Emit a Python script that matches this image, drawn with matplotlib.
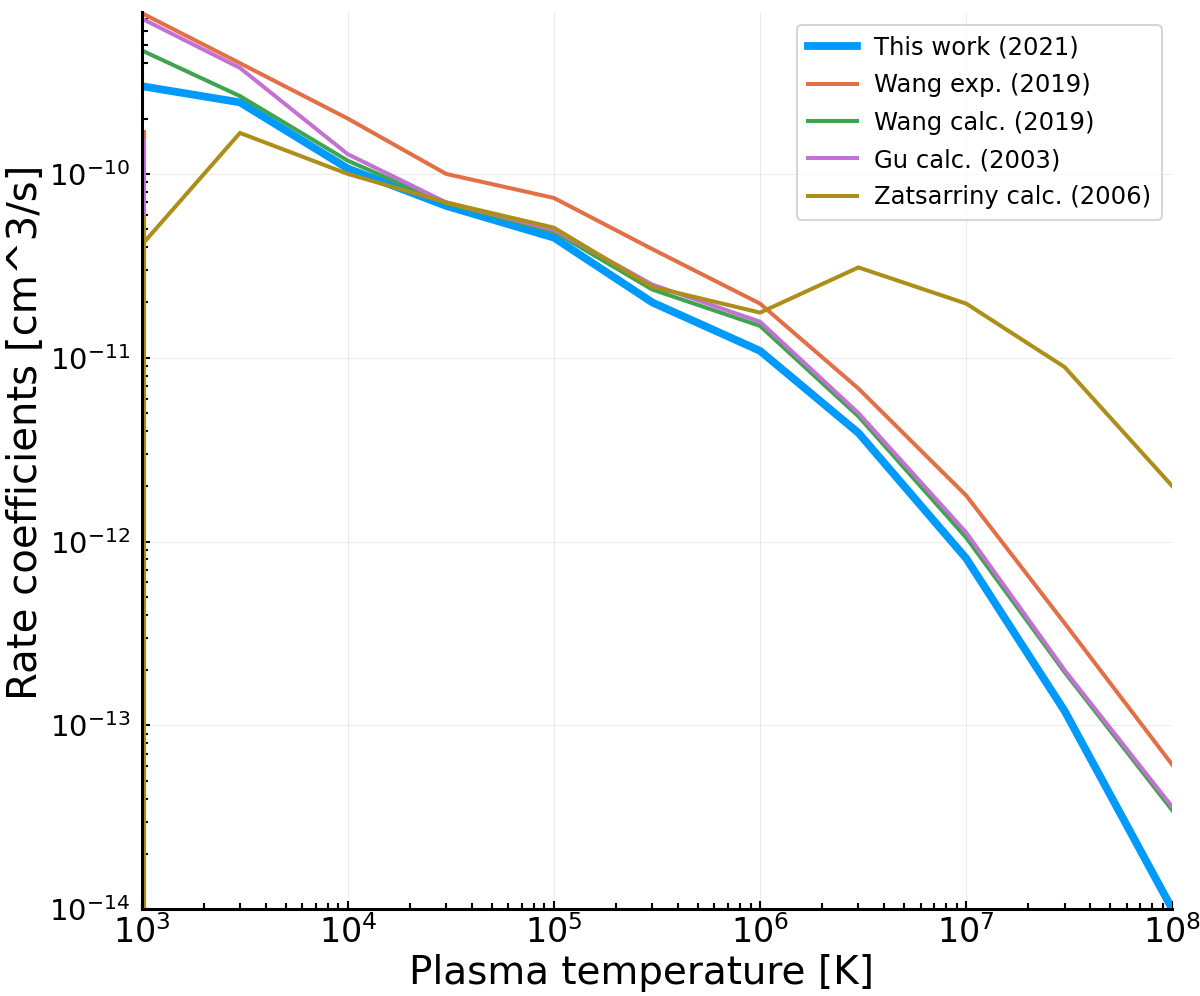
import matplotlib
matplotlib.use('Agg')
import matplotlib.pyplot as plt

# plasma temperature grid [K]
temps = [1e3, 3e3, 1e4, 3e4, 1e5, 3e5, 1e6, 3e6, 1e7, 3e7, 1e8]

this_work = [3.0e-10, 2.45e-10, 1.07e-10, 6.7e-11, 4.5e-11, 2.0e-11, 1.09e-11, 3.9e-12, 8.1e-13, 1.2e-13, 1.0e-14]
wang_exp = [7.5e-10, 4.0e-10, 2.0e-10, 1.0e-10, 7.4e-11, 3.9e-11, 1.97e-11, 6.8e-12, 1.78e-12, 3.6e-13, 6.1e-14]
wang_calc = [4.7e-10, 2.65e-10, 1.18e-10, 6.9e-11, 4.85e-11, 2.35e-11, 1.49e-11, 4.8e-12, 1.05e-12, 1.95e-13, 3.45e-14]
gu_calc = [7.0e-10, 3.77e-10, 1.28e-10, 7.0e-11, 4.96e-11, 2.5e-11, 1.57e-11, 5.0e-12, 1.12e-12, 2.0e-13, 3.6e-14]
zats_calc = [4.1e-11, 1.67e-10, 1.0e-10, 7.0e-11, 5.1e-11, 2.43e-11, 1.76e-11, 3.1e-11, 1.97e-11, 8.9e-12, 2.0e-12]

labels = ['This work (2021)', 'Wang exp. (2019)', 'Wang calc. (2019)',
          'Gu calc. (2003)', 'Zatsarriny calc. (2006)']
colors = ['#009AFA', '#E36F47', '#3EA44E', '#C371D2', '#AC8E18']
widths = [5.6, 2.9, 2.9, 2.9, 2.9]

# spurious low-temperature tails right at the left edge
tail_T = 1.025e3
tail_top = [9e-11, 1.7e-10, 1.0e-10, 1.53e-10, 5.8e-11]
tail_bottom = 1e-16

fig = plt.figure(figsize=(12, 9.96), dpi=100)
ax = fig.add_axes([0.118, 0.087, 0.859, 0.901])

series = [this_work, wang_exp, wang_calc, gu_calc, zats_calc]
for vals, lab, c, w, top in zip(series, labels, colors, widths, tail_top):
    ax.plot([tail_T, tail_T], [tail_bottom, top], color=c, lw=2.9)
    ax.plot(temps, vals, color=c, lw=w, label=lab)

ax.set_xscale('log')
ax.set_yscale('log')
ax.set_xlim(1e3, 1e8)
ax.set_ylim(1e-14, 7.6e-10)

ax.set_xlabel('Plasma temperature [K]', fontsize=28)
ax.set_ylabel('Rate coefficients [cm^3/s]', fontsize=29)
ax.xaxis.set_label_coords(0.485, -0.05)
ax.yaxis.set_label_coords(-0.093, 0.532)

for s in ['top', 'right']:
    ax.spines[s].set_visible(False)
for s in ['left', 'bottom']:
    ax.spines[s].set_linewidth(2.2)
    ax.spines[s].set_zorder(5)

ax.tick_params(axis='both', which='both', direction='in', width=1.5)
ax.tick_params(axis='both', which='major', length=6)
ax.tick_params(axis='both', which='minor', length=4)
ax.tick_params(axis='x', which='major', labelsize=24, pad=4)
ax.tick_params(axis='y', which='major', labelsize=21, pad=8)

ax.grid(True, which='major', color='black', alpha=0.08, lw=0.8)

leg = ax.legend(loc='upper right', fontsize=17.5, frameon=True,
                bbox_to_anchor=(0.99, 0.9855), borderaxespad=0,
                handlelength=2.0, handletextpad=0.7,
                borderpad=0.45, labelspacing=0.55)
leg.get_frame().set_edgecolor('#cccccc')
leg.get_frame().set_linewidth(1.5)

fig.savefig('out.png', dpi=100)
